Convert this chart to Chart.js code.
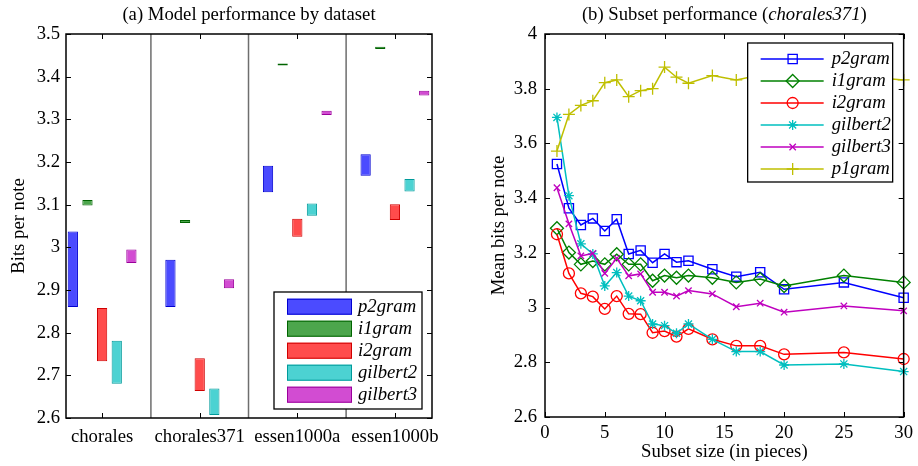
<!DOCTYPE html>
<html>
<head>
<meta charset="utf-8">
<script src="https://cdn.jsdelivr.net/npm/chart.js@4"></script>
<style>
  html, body { margin: 0; padding: 0; background: #fff; }
  .panel { position: absolute; top: 0; width: 459px; height: 466px; }
</style>
</head>
<body>
<div class="panel" style="left:0"><canvas id="chartA"></canvas></div>
<div class="panel" style="left:459px"><canvas id="chartB"></canvas></div>
<script>
const FONT = '"Liberation Serif", "Times New Roman", serif';
const SIZE = 18.7;

// (a) bits per note, [low, high] for each dataset
const datasetNames = ["chorales", "chorales371", "essen1000a", "essen1000b"];
const p2gramRange = [[2.86, 3.037], [2.86, 2.971], [3.129, 3.191], [3.168, 3.218]];
const i1gramRange = [[3.098, 3.111], [3.057, 3.064], [3.426, 3.431], [3.465, 3.470]];
const i2gramRange = [[2.733, 2.858], [2.663, 2.740], [3.025, 3.067], [3.064, 3.101]];
const gilbert2Range = [[2.680, 2.781], [2.607, 2.669], [3.074, 3.103], [3.131, 3.160]];
const gilbert3Range = [[2.963, 2.995], [2.904, 2.925], [3.310, 3.320], [3.356, 3.367]];

// (b) mean bits per note against subset size (chorales371)
const subsetSizes = [1, 2, 3, 4, 5, 6, 7, 8, 9, 10, 11, 12, 14, 16, 18, 20, 25, 30];
const p2gram = [3.525, 3.363, 3.302, 3.326, 3.280, 3.323, 3.196, 3.209, 3.164, 3.196, 3.166, 3.171, 3.140, 3.113, 3.129, 3.067, 3.092, 3.036];
const i1gram = [3.290, 3.201, 3.158, 3.170, 3.158, 3.195, 3.158, 3.158, 3.098, 3.117, 3.109, 3.117, 3.109, 3.092, 3.104, 3.079, 3.117, 3.092];
const i2gram = [3.268, 3.125, 3.052, 3.040, 2.995, 3.042, 2.977, 2.976, 2.908, 2.914, 2.894, 2.922, 2.884, 2.860, 2.860, 2.829, 2.836, 2.812];
const gilbert2 = [3.695, 3.409, 3.233, 3.196, 3.079, 3.128, 3.042, 3.025, 2.940, 2.934, 2.906, 2.940, 2.884, 2.839, 2.839, 2.790, 2.794, 2.766];
const gilbert3 = [3.438, 3.306, 3.189, 3.198, 3.125, 3.180, 3.116, 3.123, 3.056, 3.056, 3.042, 3.062, 3.050, 3.003, 3.016, 2.983, 3.006, 2.988];
const p1gram = [3.572, 3.706, 3.739, 3.756, 3.822, 3.832, 3.771, 3.793, 3.800, 3.879, 3.842, 3.820, 3.848, 3.832, 3.850, 3.840, 3.850, 3.832];

Chart.defaults.font.family = FONT;
Chart.defaults.font.size = SIZE;
Chart.defaults.color = "#000";

function fmt(v) {
  return String(Number(v.toFixed(2)));
}

// box round the plot with inward ticks on all four sides
const framePlugin = {
  id: "frame",
  afterDatasetsDraw(chart) {
    const { ctx, chartArea: a, scales } = chart;
    const len = 5;
    ctx.save();
    ctx.strokeStyle = "#000";
    ctx.lineWidth = 1;
    ctx.beginPath();
    scales.x.ticks.forEach((t) => {
      const px = Math.round(scales.x.getPixelForValue(t.value)) + 0.5;
      ctx.moveTo(px, a.bottom); ctx.lineTo(px, a.bottom - len);
      ctx.moveTo(px, a.top); ctx.lineTo(px, a.top + len);
    });
    scales.y.ticks.forEach((t) => {
      const py = Math.round(scales.y.getPixelForValue(t.value)) + 0.5;
      ctx.moveTo(a.left, py); ctx.lineTo(a.left + len, py);
      ctx.moveTo(a.right, py); ctx.lineTo(a.right - len, py);
    });
    ctx.stroke();
    ctx.lineWidth = 1.5;
    ctx.strokeRect(a.left, a.top, a.right - a.left, a.bottom - a.top);
    ctx.restore();
  },
};

function makeTitle(parts) {
  return {
    id: "mixedTitle",
    afterDraw(chart) {
      const { ctx, chartArea: a } = chart;
      ctx.save();
      ctx.fillStyle = "#000";
      ctx.textBaseline = "alphabetic";
      const fonts = parts.map((p) => (p.italic ? "italic " : "") + SIZE + "px " + FONT);
      let total = 0;
      const widths = parts.map((p, i) => {
        ctx.font = fonts[i];
        const w = ctx.measureText(p.text).width;
        total += w;
        return w;
      });
      let x = (a.left + a.right) / 2 - total / 2;
      parts.forEach((p, i) => {
        ctx.font = fonts[i];
        ctx.fillText(p.text, x, 20);
        x += widths[i];
      });
      ctx.restore();
    },
  };
}

// grey lines between the dataset groups
const dividerPlugin = {
  id: "dividers",
  beforeDatasetsDraw(chart) {
    const { ctx, chartArea: a, scales } = chart;
    ctx.save();
    ctx.strokeStyle = "#6e6e6e";
    ctx.lineWidth = 1.5;
    ctx.beginPath();
    for (let i = 1; i < datasetNames.length; i++) {
      const px = scales.x.getPixelForValue(i + 0.5);
      ctx.moveTo(px, a.top); ctx.lineTo(px, a.bottom);
    }
    ctx.stroke();
    ctx.restore();
  },
};

const barLegend = {
  id: "barLegend",
  afterDraw(chart) {
    const { ctx, chartArea: a } = chart;
    const w = 148, h = 117;
    const left = a.right - 10 - w, top = a.bottom - 9 - h;
    ctx.save();
    ctx.fillStyle = "#fff";
    ctx.fillRect(left, top, w, h);
    ctx.strokeStyle = "#000";
    ctx.lineWidth = 1.3;
    ctx.strokeRect(left, top, w, h);
    ctx.font = "italic " + SIZE + "px " + FONT;
    ctx.textBaseline = "middle";
    chart.data.datasets.forEach((ds, i) => {
      const cy = top + 14.7 + i * 22;
      ctx.fillStyle = ds.backgroundColor;
      ctx.fillRect(left + 13, cy - 8, 65, 16);
      ctx.strokeStyle = ds.borderColor;
      ctx.lineWidth = 1;
      ctx.strokeRect(left + 13.5, cy - 7.5, 64, 15);
      ctx.fillStyle = "#000";
      ctx.fillText(ds.label, left + 84, cy);
    });
    ctx.restore();
  },
};

const lineLegend = {
  id: "lineLegend",
  afterDraw(chart) {
    const { ctx, chartArea: a } = chart;
    const w = 145, h = 139;
    const left = a.right - 11 - w, top = a.top + 9;
    ctx.save();
    ctx.fillStyle = "#fff";
    ctx.fillRect(left, top, w, h);
    ctx.strokeStyle = "#000";
    ctx.lineWidth = 1.3;
    ctx.strokeRect(left, top, w, h);
    ctx.font = "italic " + SIZE + "px " + FONT;
    ctx.textBaseline = "middle";
    chart.data.datasets.forEach((ds, i) => {
      const cy = top + 16 + i * 22;
      ctx.strokeStyle = ds.borderColor;
      ctx.lineWidth = ds.borderWidth;
      ctx.beginPath();
      ctx.moveTo(left + 13, cy); ctx.lineTo(left + 76, cy);
      ctx.stroke();
      ctx.fillStyle = "rgba(0,0,0,0)";
      ctx.lineWidth = ds.pointBorderWidth;
      Chart.helpers.drawPoint(ctx, { pointStyle: ds.pointStyle, radius: ds.pointRadius, rotation: 0, borderWidth: ds.pointBorderWidth }, left + 45, cy);
      ctx.fillStyle = "#000";
      ctx.fillText(ds.label, left + 84, cy);
    });
    ctx.restore();
  },
};

function barSeries(label, ranges, fill, border) {
  return {
    label,
    data: ranges.map((r, i) => ({ x: i + 1, y: r })),
    backgroundColor: fill,
    borderColor: border,
    borderWidth: 1,
    borderSkipped: false,
    categoryPercentage: 0.75,
    barPercentage: 0.7,
  };
}

new Chart(document.getElementById("chartA"), {
  type: "bar",
  data: {
    datasets: [
      barSeries("p2gram", p2gramRange, "#4b4bff", "#0000d0"),
      barSeries("i1gram", i1gramRange, "#4ca64c", "#006400"),
      barSeries("i2gram", i2gramRange, "#ff4c4c", "#d00000"),
      barSeries("gilbert2", gilbert2Range, "#4cd2d2", "#009a9a"),
      barSeries("gilbert3", gilbert3Range, "#d24cd2", "#9a009a"),
    ],
  },
  options: {
    responsive: true,
    maintainAspectRatio: false,
    animation: false,
    devicePixelRatio: 1,
    layout: { padding: { left: 0, right: 27, top: 34, bottom: 0 } },
    plugins: { legend: { display: false }, tooltip: { enabled: false } },
    scales: {
      x: {
        type: "linear",
        offset: false,
        min: 0.63,
        max: 4.38,
        grid: { display: false, drawTicks: false },
        border: { display: false },
        ticks: { padding: 7.5, maxRotation: 0, autoSkip: false, callback: (v) => datasetNames[v - 1] },
        afterBuildTicks: (s) => { s.ticks = datasetNames.map((_, i) => ({ value: i + 1 })); },
        afterFit: (s) => { s.height = 48; },
      },
      y: {
        min: 2.6,
        max: 3.5,
        beginAtZero: false,
        grid: { display: false, drawTicks: false },
        border: { display: false },
        ticks: { stepSize: 0.1, padding: 6, callback: fmt },
        title: { display: true, text: "Bits per note", padding: { top: 7.5, bottom: 0 } },
        afterFit: (s) => { s.width = 66; },
      },
    },
  },
  plugins: [dividerPlugin, framePlugin, barLegend, makeTitle([{ text: "(a) Model performance by dataset" }])],
});

function lineSeries(label, values, color, style, radius, order) {
  return {
    label,
    data: subsetSizes.map((x, i) => ({ x, y: values[i] })),
    borderColor: color,
    backgroundColor: "rgba(0,0,0,0)",
    borderWidth: 1.5,
    pointStyle: style,
    pointRadius: radius,
    pointBorderColor: color,
    pointBackgroundColor: "rgba(0,0,0,0)",
    pointBorderWidth: 1.3,
    tension: 0,
    clip: false,
    order,
  };
}

new Chart(document.getElementById("chartB"), {
  type: "line",
  data: {
    datasets: [
      lineSeries("p2gram", p2gram, "#0000ff", "rect", 6.5, 6),
      lineSeries("i1gram", i1gram, "#008000", "rectRot", 6.5, 5),
      lineSeries("i2gram", i2gram, "#ff0000", "circle", 5.5, 4),
      lineSeries("gilbert2", gilbert2, "#00bfbf", "star", 5, 3),
      lineSeries("gilbert3", gilbert3, "#bf00bf", "crossRot", 4.5, 2),
      lineSeries("p1gram", p1gram, "#bfbf00", "cross", 6, 1),
    ],
  },
  options: {
    responsive: true,
    maintainAspectRatio: false,
    animation: false,
    devicePixelRatio: 1,
    layout: { padding: { left: 0, right: 9, top: 34, bottom: 0 } },
    plugins: { legend: { display: false }, tooltip: { enabled: false } },
    scales: {
      x: {
        type: "linear",
        min: 0,
        max: 30,
        grid: { display: false, drawTicks: false },
        border: { display: false },
        ticks: { stepSize: 5, padding: 5, maxRotation: 0 },
        title: { display: true, text: "Subset size (in pieces)", padding: { top: 0, bottom: 3 } },
        afterFit: (s) => { s.height = 49; },
      },
      y: {
        min: 2.6,
        max: 4,
        grid: { display: false, drawTicks: false },
        border: { display: false },
        ticks: { stepSize: 0.2, padding: 8, callback: fmt },
        title: { display: true, text: "Mean bits per note", padding: { top: 28.5, bottom: 0 } },
        afterFit: (s) => { s.width = 86; },
      },
    },
  },
  plugins: [framePlugin, lineLegend, makeTitle([{ text: "(b) Subset performance (" }, { text: "chorales371", italic: true }, { text: ")" }])],
});
</script>
</body>
</html>
